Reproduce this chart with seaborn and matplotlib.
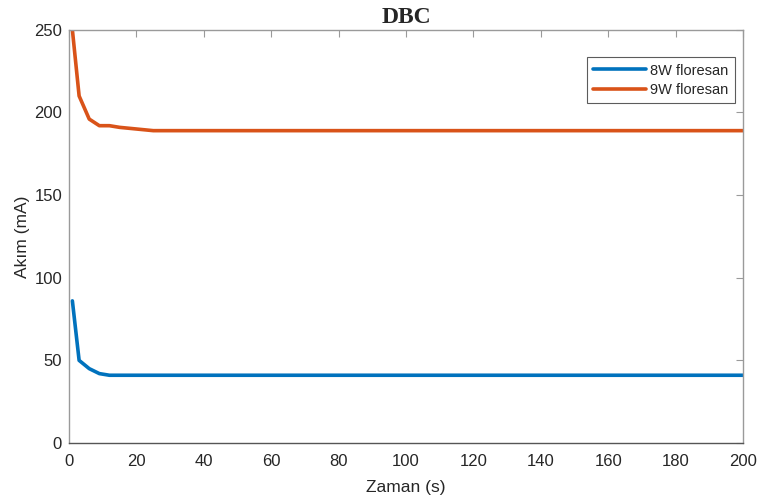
import matplotlib
matplotlib.use("Agg")
import matplotlib.pyplot as plt
import seaborn as sns
import pandas as pd

time_8w = [1, 3, 6, 9, 12, 15, 25, 50, 100, 150, 200]
current_8w = [86, 50, 45, 42, 41, 41, 41, 41, 41, 41, 41]
time_9w = [1, 3, 6, 9, 12, 15, 25, 50, 100, 150, 200]
current_9w = [250, 210, 196, 192, 192, 191, 189, 189, 189, 189, 189]
series_names = ["8W floresan", "9W floresan"]
x_ticks = [0, 20, 40, 60, 80, 100, 120, 140, 160, 180, 200]
y_ticks = [0, 50, 100, 150, 200, 250]

df = pd.concat([
    pd.DataFrame({"t": time_8w, "I": current_8w, "s": series_names[0]}),
    pd.DataFrame({"t": time_9w, "I": current_9w, "s": series_names[1]}),
])

sns.set_style("white")
plt.rcParams["font.family"] = ["Liberation Sans", "DejaVu Sans"]

fig = plt.figure(figsize=(7.6, 4.99), dpi=100)
ax = fig.add_axes([0.0908, 0.1122, 0.8868, 0.828])
sns.lineplot(data=df, x="t", y="I", hue="s", palette=["#0072BD", "#D95319"],
             linewidth=2.6, ax=ax, legend=True)

ax.set_xlim(0, 200)
ax.set_ylim(0, 250)
ax.set_xticks(x_ticks)
ax.set_yticks(y_ticks)
ax.tick_params(direction="in", length=5, width=0.8, colors="#9a9a9a",
               labelcolor="#262626", labelsize=12, top=True, right=True)
ax.tick_params(axis="x", pad=8)
ax.tick_params(axis="y", pad=5)
for s in ax.spines.values():
    s.set_color("#9a9a9a")
    s.set_linewidth(1.0)
ax.spines["bottom"].set_color("#555555")

ax.set_xlabel("Zaman (s)", fontsize=12.5, color="#262626", labelpad=8)
ax.set_ylabel("Akım (mA)", fontsize=12.5, color="#262626", labelpad=3)
ax.set_title("DBC", fontsize=17, fontweight="bold",
             family=["Liberation Serif", "DejaVu Serif"], pad=5)

leg = ax.legend(loc="upper right", bbox_to_anchor=(0.999, 0.952),
                fontsize=10.5, frameon=True, fancybox=False,
                handlelength=3.6, handletextpad=0.3, borderpad=0.45,
                labelspacing=0.35)
leg.get_frame().set_edgecolor("#333333")
leg.get_frame().set_linewidth(0.8)
leg.set_title(None)

fig.savefig("out.png", dpi=100)
